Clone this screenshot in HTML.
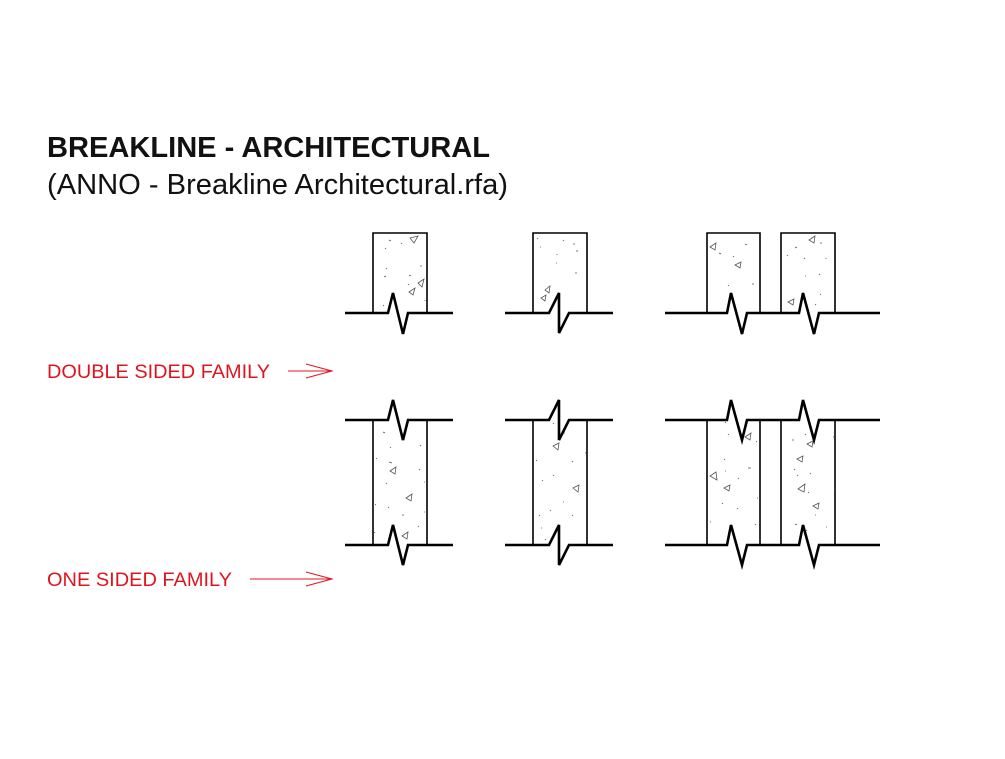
<!DOCTYPE html>
<html><head><meta charset="utf-8"><style>
html,body{margin:0;padding:0;background:#fff;}
body{width:1005px;height:754px;overflow:hidden;}
</style></head><body>
<svg width="1005" height="754" viewBox="0 0 1005 754" xmlns="http://www.w3.org/2000/svg">
<rect width="1005" height="754" fill="#fff"/>
<text x="47" y="157" font-family="Liberation Sans, sans-serif" font-weight="bold" font-size="28.5" fill="#111" textLength="443" lengthAdjust="spacingAndGlyphs">BREAKLINE - ARCHITECTURAL</text>
<text x="47" y="194" font-family="Liberation Sans, sans-serif" font-size="29" fill="#111" textLength="461" lengthAdjust="spacingAndGlyphs">(ANNO - Breakline Architectural.rfa)</text>
<text x="47" y="378" font-family="Liberation Sans, sans-serif" font-size="19.5" fill="#e0141e" textLength="223" lengthAdjust="spacingAndGlyphs">DOUBLE SIDED FAMILY</text>
<text x="47" y="586" font-family="Liberation Sans, sans-serif" font-size="19.5" fill="#e0141e" textLength="185" lengthAdjust="spacingAndGlyphs">ONE SIDED FAMILY</text>
<g stroke="#e0141e" stroke-width="1" fill="none">
<path d="M288 371 L332 371 M306 364 L332 371 L306 378"/>
<path d="M250 579 L332 579 M306 572 L332 579 L306 586"/>
</g>
<g stroke="#000" stroke-width="1.6" fill="none">
<path d="M373 313 V233 H427 V313"/>
<path d="M533 313 V233 H587 V313"/>
<path d="M707 313 V233 H760 V313"/>
<path d="M781 313 V233 H835 V313"/>
<path d="M373 420 V545 M427 420 V545"/>
<path d="M533 420 V545 M587 420 V545"/>
<path d="M707 420 V545 M760 420 V545"/>
<path d="M781 420 V545 M835 420 V545"/>
</g>
<g stroke="#000" stroke-width="2.6" fill="none" stroke-linejoin="miter">
<path d="M345 313 H388 L393 293 L403 334 L408 313 H453"/>
<path d="M505 313 H549 L559 293 L559 333 L569 313 H613"/>
<path d="M665 313 H727 L731 293 L742 334 L747 313 H799 L803 293 L814 334 L819 313 H880"/>
<path d="M345 420 H388 L393 400 L403 440 L408 420 H453"/>
<path d="M345 545 H388 L393 525 L403 565 L408 545 H453"/>
<path d="M505 420 H549 L559 400 L559 440 L569 420 H613"/>
<path d="M505 545 H549 L559 525 L559 565 L569 545 H613"/>
<path d="M665 420 H727 L731 400 L742 440 L747 420 H799 L803 400 L814 440 L819 420 H880"/>
<path d="M665 545 H727 L731 525 L742 565 L747 545 H799 L803 525 L814 565 L819 545 H880"/>
</g>
<g stroke="#555" stroke-width="0.8" fill="none">
<path d="M410 238 L418 236 L414 243 Z M418 283 L424 279 L422 287 Z M409 292 L415 288 L413 295 Z"/>
<path d="M545 290 L550 286 L549 293 Z M541 298 L546 295 L545 301 Z"/>
<path d="M710 247 L716 243 L715 250 Z M735 265 L741 262 L740 268 Z M788 302 L794 299 L793 305 Z M809 240 L815 236 L814 243 Z"/>
<path d="M390 471 L396 467 L395 474 Z M406 498 L412 494 L411 501 Z M402 536 L408 532 L407 539 Z"/>
<path d="M553 446 L559 443 L558 450 Z M573 488 L579 485 L578 492 Z"/>
<path d="M710 476 L716 472 L717 480 Z M724 488 L730 485 L729 491 Z M745 437 L751 433 L750 440 Z M797 459 L803 456 L802 462 Z M798 489 L805 484 L804 492 Z M813 506 L819 503 L818 509 Z M807 444 L813 441 L812 447 Z"/>
<path d="M389 240l2 1 M401 243l1 1 M385 249l1 -1 M386 268l1 1 M384 277l2 -1 M409 275l2 1 M420 266l2 0 M408 284l1 1 M383 306l1 -1 M425 300l0 1
M537 238l1 1 M563 240l1 1 M573 244l2 0 M557 254l0 1 M556 263l1 0 M575 273l2 0 M577 250l0 2 M540 247l1 0
M719 253l2 1 M733 257l1 -1 M745 244l2 1 M752 284l2 0 M728 286l1 -1 M795 248l2 -1 M787 256l1 -1 M804 258l1 1 M820 243l2 0 M826 258l0 1 M805 276l1 0 M819 275l1 -1 M820 294l1 1 M815 305l1 -1
M383 432l2 1 M390 447l1 1 M420 446l1 -1 M376 459l1 -1 M389 462l3 1 M419 470l1 -1 M424 482l1 0 M386 483l1 1 M375 505l1 -1 M388 507l1 1 M402 515l2 0 M424 512l1 0 M418 527l1 -1 M374 532l1 1
M553 423l1 1 M564 433l1 0 M536 460l1 1 M572 461l1 1 M542 481l1 -1 M553 475l1 1 M563 502l1 0 M550 511l1 -1 M572 515l1 1 M539 515l1 1 M541 528l1 0 M545 540l1 -1 M586 452l0 2
M725 422l1 1 M728 434l1 1 M756 441l1 1 M724 460l1 -1 M725 471l1 0 M748 468l3 0 M738 478l1 1 M757 498l1 0 M722 504l1 -1 M737 508l1 1 M755 524l1 1 M710 522l1 0
M792 440l2 0 M805 434l1 1 M833 437l1 0 M794 470l1 -1 M797 475l1 1 M810 473l1 1 M834 490l1 0 M808 493l1 -1 M815 515l1 0 M795 524l2 1 M826 527l1 0 M806 530l1 1"/>
</g>
</svg>
</body></html>
